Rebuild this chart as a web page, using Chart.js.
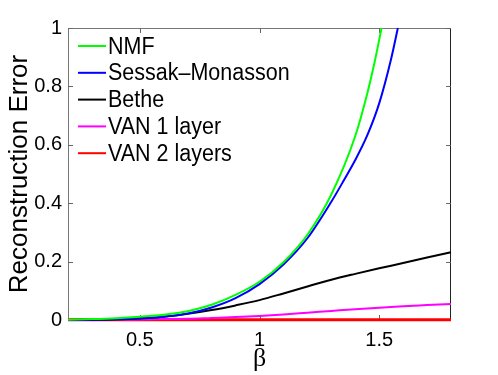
<!DOCTYPE html>
<html>
<head>
<meta charset="utf-8">
<script src="https://cdn.jsdelivr.net/npm/chart.js@4/dist/chart.umd.min.js"></script>
<style>
  html, body { margin:0; padding:0; background:#fff; }
</style>
</head>
<body>
<canvas id="c" width="498" height="375"></canvas>
<script>
// beta values
const beta = [0.2,0.3,0.4,0.5,0.6,0.7,0.8,0.9,1.0,1.1,1.2,1.3,1.4,1.5,1.6,1.7,1.8];

const nmfX = [0.2,0.3,0.4,0.5,0.6,0.7,0.8,0.9,1.0,1.1,1.2,1.3,1.4,1.45,1.48,1.51];
const nmfY = [0.001,0.003,0.006,0.011,0.018,0.030,0.052,0.086,0.131,0.198,0.292,0.430,0.630,0.775,0.880,1.0];

const smX = [0.2,0.3,0.4,0.5,0.6,0.7,0.8,0.9,1.0,1.1,1.2,1.3,1.35,1.4,1.45,1.5,1.55,1.578];
const smY = [0.0,0.001,0.003,0.006,0.011,0.022,0.043,0.075,0.123,0.190,0.280,0.405,0.475,0.548,0.632,0.742,0.895,1.0];

const betheY = [0.0,0.001,0.002,0.005,0.011,0.021,0.034,0.050,0.068,0.091,0.115,0.138,0.158,0.177,0.195,0.214,0.232];
const van1Y  = [0.0,0.0,0.001,0.002,0.003,0.004,0.007,0.010,0.014,0.019,0.025,0.031,0.037,0.042,0.047,0.051,0.055];
const van2Y  = [0.001,0.001,0.001,0.001,0.001,0.001,0.001,0.001,0.001,0.001,0.001,0.001,0.001,0.001,0.001,0.001,0.001];

const labels = ["NMF","Sessak\u2013Monasson","Bethe","VAN 1 layer","VAN 2 layers"];
const colors = ["#00ff00","#0000ff","#000000","#ff00ff","#ff0000"];

const xTicks = [0.5,1,1.5];
const yTicks = [0,0.2,0.4,0.6,0.8,1];

function pts(xs, ys) { return xs.map((x,i)=>({x:x, y:ys[i]})); }

const series = [pts(nmfX,nmfY), pts(smX,smY), pts(beta,betheY), pts(beta,van1Y), pts(beta,van2Y)];

// legend inside the axes, MATLAB style (text a bit taller than wide)
const boxLegend = {
  id:"boxLegend",
  afterDatasetsDraw(chart) {
    const ctx = chart.ctx;
    chart.data.datasets.forEach((ds,i)=>{
      const y = 46 + i*26.8;
      ctx.save();
      ctx.strokeStyle = ds.borderColor;
      ctx.lineWidth = 2;
      ctx.beginPath(); ctx.moveTo(78,y); ctx.lineTo(106,y); ctx.stroke();
      ctx.translate(108, y+1);
      ctx.scale(1, 1.12);
      ctx.font = "21.5px 'Liberation Sans', Arial, sans-serif";
      ctx.textBaseline = "middle";
      ctx.fillStyle = "#000";
      ctx.fillText(ds.label, 0, 0);
      ctx.restore();
    });
  }
};

// box and inward ticks
const axesBox = {
  id:"axesBox",
  beforeDatasetsDraw(chart) {
    const a = chart.chartArea, ctx = chart.ctx;
    const xs = chart.scales.x, ys = chart.scales.y;
    ctx.save();
    ctx.lineWidth = 1;
    ctx.strokeStyle = "#777";
    ctx.beginPath();
    ctx.moveTo(a.left+0.5, a.bottom); ctx.lineTo(a.left+0.5, a.top+0.5); ctx.lineTo(a.right, a.top+0.5);
    ctx.stroke();
    ctx.strokeStyle = "#222";
    ctx.beginPath();
    ctx.moveTo(a.right-0.5, a.top); ctx.lineTo(a.right-0.5, a.bottom-0.5); ctx.lineTo(a.left, a.bottom-0.5);
    ctx.stroke();
    ctx.strokeStyle = "#666";
    const t = 5;
    xTicks.forEach(v=>{
      const px = Math.round(xs.getPixelForValue(v))+0.5;
      ctx.beginPath();
      ctx.moveTo(px,a.bottom); ctx.lineTo(px,a.bottom-t);
      ctx.moveTo(px,a.top); ctx.lineTo(px,a.top+t);
      ctx.stroke();
    });
    yTicks.forEach(v=>{
      const py = Math.round(ys.getPixelForValue(v))+0.5;
      ctx.beginPath();
      ctx.moveTo(a.left,py); ctx.lineTo(a.left+t,py);
      ctx.moveTo(a.right,py); ctx.lineTo(a.right-t,py);
      ctx.stroke();
    });
    ctx.restore();
  }
};

new Chart(document.getElementById("c"), {
  type:"line",
  data:{
    datasets: series.map((d,i)=>({
      label: labels[i],
      data: d,
      borderColor: colors[i],
      backgroundColor: colors[i],
      borderWidth: i===4 ? 3 : 2,
      pointRadius: 0,
      cubicInterpolationMode: "monotone",
      clip: 3
    }))
  },
  options:{
    responsive:false,
    animation:false,
    layout:{ padding:{ top:28, right:47, left:4, bottom:0 } },
    plugins:{ legend:{ display:false }, tooltip:{ enabled:false } },
    scales:{
      x:{
        type:"linear", min:0.2, max:1.8,
        afterBuildTicks: s => { s.ticks = xTicks.map(v=>({value:v})); },
        grid:{ display:false, drawTicks:false },
        border:{ display:false },
        ticks:{ color:"#000", padding:8, callback: v => String(v), font:{ size:20, family:"'Liberation Sans', Arial" } },
        title:{ display:true, text:"\u03b2", color:"#000", padding:{top:-4,bottom:0}, font:{ size:26, family:"'Liberation Serif', 'Times New Roman'" } },
        afterFit: s => { s.height = 55; }
      },
      y:{
        type:"linear", min:0, max:1,
        afterBuildTicks: s => { s.ticks = yTicks.map(v=>({value:v})); },
        grid:{ display:false, drawTicks:false },
        border:{ display:false },
        ticks:{ color:"#000", padding:6, callback: v => String(v), font:{ size:20, family:"'Liberation Sans', Arial" } },
        title:{ display:true, text:"Reconstruction Error", color:"#000", padding:{top:0,bottom:0}, font:{ size:26, family:"'Liberation Sans', Arial" } },
        afterFit: s => { s.width = 64; }
      }
    }
  },
  plugins:[axesBox, boxLegend]
});
</script>
</body>
</html>
